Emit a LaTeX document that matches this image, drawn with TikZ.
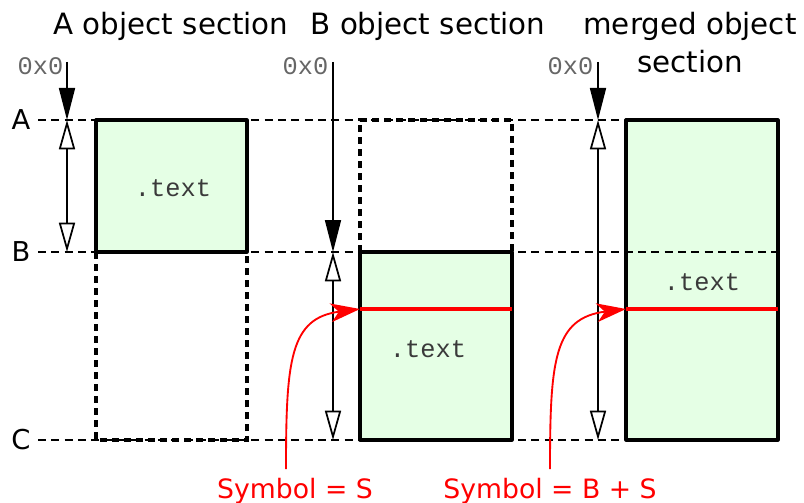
\documentclass[tikz,border=0pt]{standalone}
\usepackage{fontspec}
\setmainfont{DejaVu Sans}
\newfontfamily\monof{Liberation Mono}
\usetikzlibrary{arrows.meta}
\definecolor{boxgreen}{HTML}{E5FFE5}
\definecolor{addrgray}{HTML}{666666}
\definecolor{sectgray}{HTML}{3A3A3A}
\begin{document}
\begin{tikzpicture}[x=0.75pt,y=-0.75pt,
  guide/.style={draw=black, line width=1.1pt, dash pattern=on 6pt off 4pt},
  solidbox/.style={fill=boxgreen, draw=black, line width=2.4pt, line join=round},
  dotbox/.style={draw=black, line width=2.4pt, dash pattern=on 5.5pt off 3.5pt},
  shaft/.style={draw=black, line width=1.3pt},
  headin/.style={shaft, -{Triangle[length=24pt,width=12pt]}},
  spanarrow/.style={shaft, {Triangle[open,length=22pt,width=12pt]}-{Triangle[open,length=22pt,width=12pt]}},
  symarrow/.style={draw=red, line width=1.4pt, -{Stealth[length=22pt,width=14pt,inset=6pt]}},
  symline/.style={draw=red, line width=2.6pt},
  titletext/.style={font=\fontsize{22}{26}\selectfont, anchor=base, inner sep=0pt},
  rowlab/.style={font=\fontsize{20.5}{24}\selectfont, inner sep=0pt},
  addr/.style={font=\monof\fontsize{19}{22}\selectfont, text=addrgray, anchor=base, inner sep=0pt},
  secttext/.style={font=\monof\fontsize{19}{22}\selectfont, text=sectgray, anchor=base, inner sep=0pt},
  symtext/.style={font=\fontsize{20}{24}\selectfont, text=red, anchor=base, inner sep=0pt}
]
\useasboundingbox (0,0) rectangle (804,503);

% titles
\node[titletext] (tA) at (171,35) {A object section};
\node[titletext] (tB) at (428,35) {B object section};
\node[titletext] (tM1) at (690,35) {merged object};
\node[titletext] (tM2) at (690,73) {section};

% row labels
\node[rowlab] (lA) at (21,120) {A};
\node[rowlab] (lB) at (21,252) {B};
\node[rowlab] (lC) at (21,440) {C};

% boxes (fills and solid outlines)
\draw[solidbox] (96,120) rectangle (247,252);
\draw[solidbox] (360,252) rectangle (512,440);
\draw[solidbox] (626,120) rectangle (778,440);

% guide lines
\coordinate (gA1) at (38,120); \coordinate (gA2) at (626,120);
\coordinate (gB1) at (38,252); \coordinate (gB2) at (778,252);
\coordinate (gC1) at (38,440); \coordinate (gC2) at (626,440);
\draw[guide] (gA1) -- (gA2);
\draw[guide] (gB1) -- (gB2);
\draw[guide] (gC1) -- (gC2);

% dotted (empty) parts
\draw[dotbox] (96,252) -- (96,440) -- (247,440) -- (247,252);
\draw[dotbox] (360,252) -- (360,120) -- (512,120) -- (512,252);

% section labels
\node[secttext] (sA) at (173,196) {.text};
\node[secttext] (sB) at (428,357) {.text};
\node[secttext] (sM) at (702,290) {.text};

% addresses
\node[addr] (zA) at (40.5,75) {0x0};
\node[addr] (zB) at (305.5,75) {0x0};
\node[addr] (zM) at (570.5,75) {0x0};

% arrows
\coordinate (a0) at (67,62);  \coordinate (a1) at (67,120);  \coordinate (a2) at (67,252);
\coordinate (b0) at (333,62); \coordinate (b1) at (333,252); \coordinate (b2) at (333,440);
\coordinate (m0) at (598,62); \coordinate (m1) at (598,120); \coordinate (m2) at (598,440);
\draw[headin] (a0) -- (a1);
\draw[spanarrow] (a1) -- (a2);
\draw[headin] (b0) -- (b1);
\draw[spanarrow] (b1) -- (b2);
\draw[headin] (m0) -- (m1);
\draw[spanarrow] (m1) -- (m2);

% symbols
\coordinate (rB1) at (360,309); \coordinate (rB2) at (512,309);
\coordinate (rM1) at (626,309); \coordinate (rM2) at (778,309);
\draw[symline] (rB1) -- (rB2);
\draw[symline] (rM1) -- (rM2);
\node[symtext] (symS) at (295,498) {Symbol = S};
\node[symtext] (symBS) at (550,498) {Symbol = B + S};
\coordinate (cS) at (286,469);
\coordinate (cBS) at (550,469);
\draw[symarrow] (cS) .. controls (286,360) and (290,318) .. (rB1);
\draw[symarrow] (cBS) .. controls (550,360) and (554,318) .. (rM1);
\end{tikzpicture}
\end{document}
